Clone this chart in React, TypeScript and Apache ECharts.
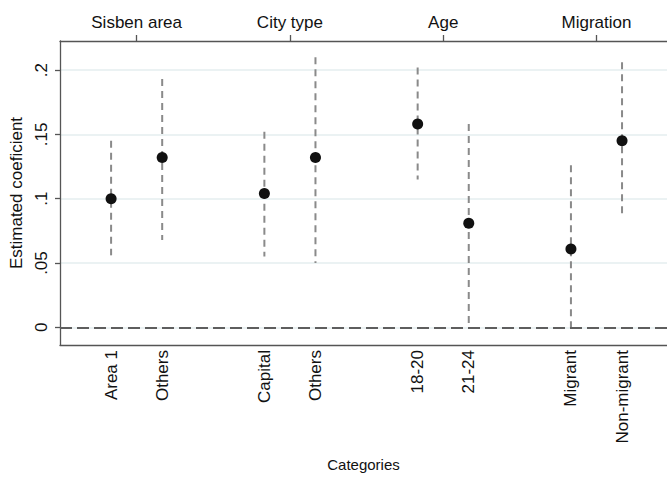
import React, { useEffect, useRef } from "react";
import * as echarts from "echarts";

// Groups of categories, two per group, separated by a one-slot gap on the x scale
const groups = ["Sisben area", "City type", "Age", "Migration"];
const categories = ["Area 1", "Others", "Capital", "Others", "18-20", "21-24", "Migrant", "Non-migrant"];
const perGroup = 2;

// Point estimates and 95% confidence bounds
const estimates = [0.100, 0.132, 0.104, 0.132, 0.158, 0.081, 0.061, 0.145];
const ciLow = [0.056, 0.068, 0.055, 0.050, 0.115, 0.002, -0.004, 0.085];
const ciHigh = [0.145, 0.193, 0.152, 0.210, 0.202, 0.158, 0.126, 0.206];

const yTicks = [0, 0.05, 0.1, 0.15, 0.2];

const FONT = "'Liberation Sans', Arial, Helvetica, sans-serif";
const FONT_SIZE = 17;
const TEXT_COLOR = "#111111";
const AXIS_COLOR = "#555555";

// Slot of each category: group index * (perGroup + 1) + position within the group
const positions = categories.map((_, i) => Math.floor(i / perGroup) * (perGroup + 1) + (i % perGroup));
const groupCenters = groups.map((_, g) => g * (perGroup + 1) + (perGroup - 1) / 2);

const fmtY = (v: number) => {
  if (v === 0) return "0";
  return String(Number(v.toFixed(3))).replace(/^0\./, ".");
};

export default function App() {
  const ref = useRef<HTMLDivElement>(null);

  useEffect(() => {
    if (!ref.current) return;
    const chart = echarts.init(ref.current, null, { renderer: "svg" });

    const labelAt = (v: number) => {
      const idx = positions.findIndex((p) => Math.abs(p - v) < 1e-6);
      return idx >= 0 ? categories[idx] : "";
    };
    const groupAt = (v: number) => {
      const idx = groupCenters.findIndex((p) => Math.abs(p - v) < 1e-6);
      return idx >= 0 ? groups[idx] : "";
    };

    chart.setOption({
      animation: false,
      backgroundColor: "#ffffff",
      textStyle: { fontFamily: FONT },
      grid: { left: 60, right: 0, top: 41, bottom: 130 },
      xAxis: [
        {
          type: "value",
          position: "bottom",
          min: -1,
          max: 10.88,
          name: "Categories",
          nameLocation: "middle",
          nameGap: 112,
          nameTextStyle: { fontFamily: FONT, fontSize: 15, color: TEXT_COLOR },
          axisLine: { show: true, onZero: false, lineStyle: { color: AXIS_COLOR, width: 1.3 } },
          axisTick: { show: false },
          splitLine: { show: false },
          axisLabel: {
            customValues: positions,
            formatter: (v: number) => labelAt(v),
            rotate: 90,
            margin: 5,
            fontFamily: FONT,
            fontSize: FONT_SIZE,
            color: TEXT_COLOR,
          },
        },
        {
          type: "value",
          position: "top",
          min: -1,
          max: 10.88,
          axisLine: { show: true, onZero: false, lineStyle: { color: AXIS_COLOR, width: 1.3 } },
          axisTick: {
            show: true,
            customValues: groupCenters,
            inside: false,
            length: 6,
            lineStyle: { color: AXIS_COLOR, width: 1.3 },
          },
          splitLine: { show: false },
          axisLabel: {
            customValues: groupCenters,
            formatter: (v: number) => groupAt(v),
            margin: 10,
            fontFamily: FONT,
            fontSize: FONT_SIZE,
            color: TEXT_COLOR,
          },
        },
      ],
      yAxis: {
        type: "value",
        min: -0.0137,
        max: 0.2226,
        name: "Estimated coeficient",
        nameLocation: "middle",
        nameRotate: 90,
        nameGap: 30,
        nameTextStyle: { fontFamily: FONT, fontSize: FONT_SIZE, color: TEXT_COLOR },
        axisLine: { show: true, onZero: false, lineStyle: { color: AXIS_COLOR, width: 1.3 } },
        axisTick: {
          show: true,
          customValues: yTicks,
          length: 5,
          lineStyle: { color: AXIS_COLOR, width: 1.3 },
        },
        axisLabel: {
          customValues: yTicks,
          formatter: (v: number) => fmtY(v),
          rotate: 90,
          margin: 10,
          fontFamily: FONT,
          fontSize: FONT_SIZE,
          color: TEXT_COLOR,
        },
        splitLine: {
          show: true,
          lineStyle: { color: "#e4eeef", width: 1.6 },
        },
      },
      series: [
        {
          type: "custom",
          name: "95% CI",
          xAxisIndex: 0,
          yAxisIndex: 0,
          encode: { x: 0, y: [1, 2] },
          data: positions.map((p, i) => [p, ciLow[i], ciHigh[i]]),
          renderItem: (_params: any, api: any) => {
            const x = api.value(0);
            const p1 = api.coord([x, api.value(2)]);
            const p2 = api.coord([x, api.value(1)]);
            return {
              type: "line",
              shape: { x1: p1[0], y1: p1[1], x2: p2[0], y2: p2[1] },
              style: { stroke: "#8a8a8a", lineWidth: 2, lineDash: [7, 5] },
            };
          },
          z: 2,
        },
        {
          type: "scatter",
          name: "Estimate",
          xAxisIndex: 0,
          yAxisIndex: 0,
          symbol: "circle",
          symbolSize: 11,
          itemStyle: { color: "#111111", opacity: 1 },
          data: positions.map((p, i) => [p, estimates[i]]),
          markLine: {
            silent: true,
            symbol: "none",
            label: { show: false },
            lineStyle: { color: "#5e5e5e", width: 2, type: [12, 5] },
            data: [{ yAxis: 0 }],
          },
          z: 3,
        },
      ],
    });

    return () => chart.dispose();
  }, []);

  return (
    <div
      ref={ref}
      style={{ position: "fixed", left: 0, top: 0, width: 667, height: 477 }}
    />
  );
}
